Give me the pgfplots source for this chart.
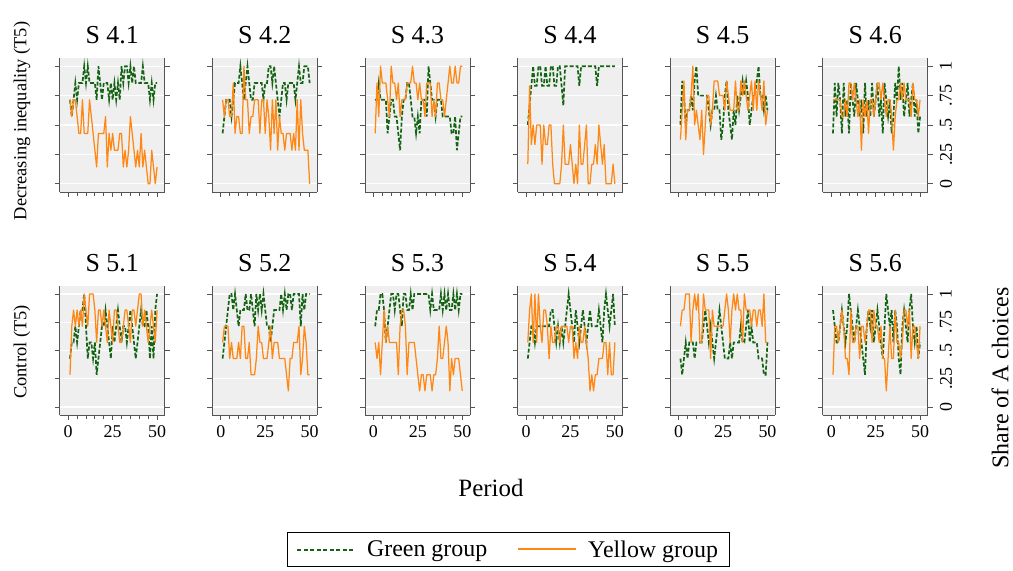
\documentclass[border=0pt]{standalone}
\usepackage{fontspec}
\setmainfont{Liberation Serif}
\usepackage{pgfplots}
\pgfplotsset{compat=1.18}

\definecolor{dkgreen}{RGB}{20,100,20}
\definecolor{orng}{RGB}{255,135,20}
\definecolor{bggray}{RGB}{239,239,239}
\definecolor{axgray}{RGB}{85,85,85}

\pgfplotsset{
  panel/.style={
    scale only axis, width=105bp, anchor=south west,
    xmin=-4.8, xmax=54.3, ymin=-0.07, ymax=1.07,
    axis x line*=bottom, axis y line*=box,
    xtick pos=lower, ytick pos=both,
    axis line style={draw=axgray, line width=0.8bp},
    axis background/.style={fill=bggray},
    ymajorgrids, major grid style={white, line width=1.2bp},
    xtick={0,25,50}, minor xtick={5,10,15,20,30,35,40,45},
    ytick={0,0.25,0.5,0.75,1},
    tick align=outside, major tick length=5bp, minor tick length=4bp,
    tick style={draw=axgray, line width=0.8bp},
    xticklabels={}, yticklabels={},
    tick label style={font=\fontsize{18}{21}\selectfont},
    xticklabel style={yshift=-2bp},
    /pgf/number format/assume math mode=true,
    title style={font=\fontsize{26}{30}\selectfont, at={(0.5,1)}, anchor=base, yshift=9bp},
  },
  toprow/.style={panel, height=134bp},
  botrow/.style={panel, height=129bp, xticklabels={0,25,50}},
  lastcol/.style={yticklabel pos=right, yticklabels={0,.25,.5,.75,1},
    yticklabel style={rotate=90, anchor=north, inner ysep=7bp}},
  gline/.style={color=dkgreen, line width=1.7bp, dash pattern=on 4bp off 2bp, no markers,
    legend image code/.code={\draw[dkgreen, line width=2bp, dash pattern=on 4bp off 2.5bp]
      (0bp,0bp) -- (58bp,0bp);}},
  yline/.style={color=orng, line width=1.25bp, no markers, line join=round,
    legend image code/.code={\draw[orng, line width=2bp] (0bp,0.5bp) -- (58bp,0.5bp);}},
  share/.style={y filter/.expression={y/#1}},
}

\begin{document}
\begin{tikzpicture}
\path[use as bounding box] (0,0) rectangle (1013bp,571bp);

% ---- top row: decreasing inequality ----
\begin{axis}[toprow, at={(59.7bp,379bp)}, title={S 4.1}]
\addplot[gline, share=7] coordinates {
(1,5)(2,4)(3,5)(4,6)(5,5)(6,6)(7,6)(8,6)(9,7)(10,6)
(11,7)(12,6)(13,6)(14,6)(15,6)(16,5)(17,7)(18,6)(19,5)(20,6)
(21,6)(22,6)(23,5)(24,6)(25,5)(26,6)(27,5)(28,6)(29,5)(30,7)
(31,6)(32,7)(33,7)(34,6)(35,7)(36,6)(37,7)(38,6)(39,6)(40,6)
(41,6)(42,7)(43,6)(44,6)(45,6)(46,5)(47,6)(48,5)(49,6)(50,6)};
\addplot[yline, share=7] coordinates {
(1,5)(2,4)(3,5)(4,5)(5,4)(6,3)(7,3)(8,5)(9,3)(10,3)
(11,3)(12,5)(13,4)(14,3)(15,2)(16,1)(17,3)(18,3)(19,3)(20,3)
(21,4)(22,1)(23,3)(24,2)(25,3)(26,2)(27,2)(28,2)(29,3)(30,3)
(31,1)(32,2)(33,1)(34,2)(35,4)(36,3)(37,2)(38,1)(39,2)(40,1)
(41,3)(42,1)(43,2)(44,1)(45,0)(46,0)(47,2)(48,1)(49,0)(50,1)};
\end{axis}

\begin{axis}[toprow, at={(212.3bp,379bp)}, title={S 4.2}]
\addplot[gline, share=7] coordinates {
(1,3)(2,4)(3,5)(4,5)(5,5)(6,4)(7,5)(8,6)(9,6)(10,6)
(11,7)(12,6)(13,5)(14,6)(15,7)(16,6)(17,5)(18,5)(19,6)(20,6)
(21,6)(22,6)(23,6)(24,5)(25,6)(26,6)(27,7)(28,7)(29,6)(30,7)
(31,6)(32,5)(33,4)(34,5)(35,6)(36,6)(37,5)(38,6)(39,6)(40,6)
(41,6)(42,5)(43,6)(44,7)(45,6)(46,6)(47,7)(48,7)(49,7)(50,6)};
\addplot[yline, share=7] coordinates {
(1,5)(2,4)(3,5)(4,5)(5,4)(6,4)(7,6)(8,3)(9,4)(10,4)
(11,3)(12,3)(13,7)(14,5)(15,5)(16,3)(17,4)(18,4)(19,5)(20,5)
(21,5)(22,3)(23,5)(24,5)(25,3)(26,5)(27,4)(28,2)(29,5)(30,3)
(31,5)(32,2)(33,4)(34,3)(35,3)(36,2)(37,3)(38,3)(39,3)(40,2)
(41,3)(42,2)(43,5)(44,2)(45,5)(46,3)(47,2)(48,2)(49,2)(50,0)};
\end{axis}

\begin{axis}[toprow, at={(364.9bp,379bp)}, title={S 4.3}]
\addplot[gline, share=7] coordinates {
(1,5)(2,5)(3,6)(4,5)(5,5)(6,5)(7,5)(8,3)(9,4)(10,5)
(11,5)(12,4)(13,4)(14,3)(15,2)(16,4)(17,5)(18,5)(19,6)(20,6)
(21,5)(22,4)(23,4)(24,3)(25,4)(26,3)(27,5)(28,5)(29,5)(30,4)
(31,7)(32,6)(33,5)(34,5)(35,4)(36,5)(37,5)(38,5)(39,4)(40,4)
(41,4)(42,4)(43,4)(44,3)(45,3)(46,4)(47,2)(48,3)(49,4)(50,4)};
\addplot[yline, share=7] coordinates {
(1,3)(2,6)(3,4)(4,7)(5,6)(6,6)(7,6)(8,5)(9,4)(10,7)
(11,6)(12,6)(13,5)(14,6)(15,4)(16,5)(17,5)(18,5)(19,6)(20,6)
(21,6)(22,7)(23,6)(24,6)(25,5)(26,6)(27,5)(28,5)(29,4)(30,6)
(31,6)(32,6)(33,4)(34,5)(35,4)(36,6)(37,6)(38,5)(39,5)(40,4)
(41,5)(42,6)(43,7)(44,6)(45,6)(46,7)(47,6)(48,6)(49,7)(50,7)};
\end{axis}

\begin{axis}[toprow, at={(517.5bp,379bp)}, title={S 4.4}]
\addplot[gline, share=6] coordinates {
(1,3)(2,4)(3,5)(4,6)(5,5)(6,5)(7,6)(8,6)(9,5)(10,5)
(11,6)(12,5)(13,5)(14,6)(15,6)(16,5)(17,5)(18,6)(19,6)(20,5)
(21,4)(22,6)(23,6)(24,6)(25,6)(26,6)(27,6)(28,6)(29,6)(30,5)
(31,6)(32,6)(33,6)(34,6)(35,6)(36,6)(37,6)(38,6)(39,6)(40,5)
(41,6)(42,6)(43,6)(44,6)(45,6)(46,6)(47,6)(48,6)(49,6)(50,6)};
\addplot[yline, share=6] coordinates {
(1,1)(2,5)(3,2)(4,3)(5,2)(6,3)(7,3)(8,3)(9,1)(10,3)
(11,2)(12,2)(13,3)(14,3)(15,1)(16,0)(17,0)(18,0)(19,0)(20,1)
(21,3)(22,1)(23,1)(24,1)(25,2)(26,1)(27,0)(28,1)(29,0)(30,3)
(31,1)(32,1)(33,2)(34,3)(35,0)(36,0)(37,1)(38,1)(39,2)(40,1)
(41,3)(42,2)(43,1)(44,2)(45,0)(46,0)(47,0)(48,0)(49,1)(50,0)};
\end{axis}

\begin{axis}[toprow, at={(670.1bp,379bp)}, title={S 4.5}]
\addplot[gline, share=8] coordinates {
(1,4)(2,7)(3,6)(4,4)(5,5)(6,5)(7,6)(8,5)(9,7)(10,8)
(11,6)(12,6)(13,6)(14,6)(15,6)(16,6)(17,5)(18,4)(19,5)(20,5)
(21,6)(22,5)(23,5)(24,3)(25,4)(26,6)(27,7)(28,5)(29,4)(30,3)
(31,5)(32,4)(33,6)(34,5)(35,6)(36,7)(37,6)(38,7)(39,6)(40,4)
(41,5)(42,6)(43,6)(44,7)(45,8)(46,6)(47,6)(48,5)(49,6)(50,5)};
\addplot[yline, share=8] coordinates {
(1,3)(2,5)(3,7)(4,3)(5,5)(6,5)(7,6)(8,8)(9,4)(10,5)
(11,4)(12,3)(13,5)(14,2)(15,4)(16,6)(17,6)(18,4)(19,5)(20,7)
(21,7)(22,7)(23,6)(24,6)(25,6)(26,5)(27,7)(28,6)(29,5)(30,5)
(31,5)(32,7)(33,5)(34,5)(35,7)(36,6)(37,7)(38,6)(39,5)(40,6)
(41,7)(42,5)(43,7)(44,5)(45,7)(46,6)(47,5)(48,7)(49,4)(50,5)};
\end{axis}

\begin{axis}[toprow, lastcol, at={(822.7bp,379bp)}, title={S 4.6}]
\addplot[gline, share=7] coordinates {
(1,3)(2,6)(3,4)(4,6)(5,5)(6,3)(7,6)(8,4)(9,5)(10,3)
(11,6)(12,5)(13,4)(14,6)(15,5)(16,4)(17,5)(18,3)(19,6)(20,4)
(21,5)(22,4)(23,6)(24,4)(25,5)(26,6)(27,4)(28,5)(29,3)(30,6)
(31,5)(32,4)(33,5)(34,3)(35,4)(36,6)(37,5)(38,7)(39,5)(40,6)
(41,4)(42,5)(43,6)(44,4)(45,5)(46,6)(47,4)(48,5)(49,3)(50,4)};
\addplot[yline, share=7] coordinates {
(1,5)(2,5)(3,5)(4,5)(5,5)(6,4)(7,4)(8,5)(9,4)(10,6)
(11,6)(12,5)(13,6)(14,5)(15,4)(16,5)(17,2)(18,5)(19,4)(20,5)
(21,3)(22,5)(23,5)(24,4)(25,5)(26,6)(27,6)(28,5)(29,6)(30,5)
(31,4)(32,5)(33,5)(34,4)(35,2)(36,4)(37,5)(38,5)(39,6)(40,5)
(41,6)(42,5)(43,5)(44,5)(45,4)(46,6)(47,5)(48,5)(49,4)(50,5)};
\end{axis}

% ---- bottom row: control ----
\begin{axis}[botrow, at={(59.7bp,156bp)}, title={S 5.1},
  legend columns=2,
  legend style={at={(4.27,-1.043)}, anchor=center, draw=black,
    fill=white, font=\fontsize{24}{28}\selectfont, inner xsep=9bp, inner ysep=6bp,
    /tikz/every odd column/.append style={column sep=9bp},
    /tikz/every even column/.append style={column sep=28bp}}]
\addplot[gline, share=7] coordinates {
(1,3)(2,4)(3,4)(4,5)(5,4)(6,5)(7,6)(8,6)(9,7)(10,5)
(11,3)(12,4)(13,4)(14,3)(15,4)(16,2)(17,3)(18,4)(19,5)(20,5)
(21,6)(22,5)(23,4)(24,3)(25,5)(26,4)(27,5)(28,6)(29,5)(30,4)
(31,5)(32,5)(33,4)(34,5)(35,6)(36,5)(37,4)(38,3)(39,4)(40,5)
(41,6)(42,5)(43,5)(44,6)(45,5)(46,3)(47,5)(48,3)(49,6)(50,7)};
\addplot[yline, share=7] coordinates {
(1,2)(2,5)(3,6)(4,5)(5,6)(6,5)(7,6)(8,5)(9,7)(10,6)
(11,5)(12,7)(13,7)(14,7)(15,6)(16,4)(17,6)(18,6)(19,5)(20,6)
(21,5)(22,4)(23,6)(24,5)(25,4)(26,6)(27,6)(28,5)(29,4)(30,4)
(31,5)(32,6)(33,6)(34,5)(35,4)(36,6)(37,6)(38,5)(39,6)(40,7)
(41,7)(42,5)(43,6)(44,5)(45,4)(46,5)(47,6)(48,5)(49,4)(50,6)};
\legend{Green group, Yellow group}
\end{axis}

\begin{axis}[botrow, at={(212.3bp,156bp)}, title={S 5.2}]
\addplot[gline, share=7] coordinates {
(1,3)(2,4)(3,5)(4,6)(5,7)(6,7)(7,6)(8,7)(9,6)(10,5)
(11,6)(12,6)(13,6)(14,7)(15,6)(16,6)(17,7)(18,6)(19,5)(20,7)
(21,6)(22,7)(23,6)(24,7)(25,6)(26,5)(27,5)(28,4)(29,5)(30,6)
(31,6)(32,6)(33,6)(34,7)(35,6)(36,7)(37,6)(38,7)(39,7)(40,6)
(41,7)(42,7)(43,7)(44,7)(45,5)(46,7)(47,6)(48,7)(49,7)(50,7)};
\addplot[yline, share=7] coordinates {
(1,4)(2,5)(3,5)(4,5)(5,3)(6,4)(7,3)(8,3)(9,3)(10,4)
(11,3)(12,5)(13,5)(14,3)(15,3)(16,4)(17,2)(18,2)(19,2)(20,3)
(21,5)(22,4)(23,4)(24,3)(25,3)(26,3)(27,4)(28,5)(29,3)(30,4)
(31,4)(32,4)(33,3)(34,3)(35,3)(36,3)(37,2)(38,1)(39,3)(40,3)
(41,4)(42,4)(43,4)(44,5)(45,2)(46,3)(47,5)(48,4)(49,2)(50,2)};
\end{axis}

\begin{axis}[botrow, at={(364.9bp,156bp)}, title={S 5.3}]
\addplot[gline, share=7] coordinates {
(1,5)(2,6)(3,6)(4,7)(5,7)(6,6)(7,4)(8,5)(9,6)(10,7)
(11,7)(12,6)(13,7)(14,7)(15,6)(16,5)(17,7)(18,7)(19,6)(20,6)
(21,7)(22,6)(23,7)(24,7)(25,7)(26,7)(27,7)(28,7)(29,7)(30,7)
(31,7)(32,6)(33,7)(34,6)(35,6)(36,6)(37,6)(38,7)(39,6)(40,7)
(41,6)(42,7)(43,6)(44,6)(45,7)(46,6)(47,7)(48,6)(49,7)(50,7)};
\addplot[yline, share=7] coordinates {
(1,4)(2,3)(3,4)(4,2)(5,4)(6,6)(7,4)(8,5)(9,4)(10,4)
(11,4)(12,4)(13,4)(14,2)(15,5)(16,6)(17,6)(18,5)(19,2)(20,4)
(21,4)(22,4)(23,4)(24,3)(25,2)(26,1)(27,2)(28,2)(29,1)(30,2)
(31,2)(32,2)(33,1)(34,2)(35,2)(36,3)(37,5)(38,3)(39,3)(40,4)
(41,5)(42,4)(43,1)(44,3)(45,2)(46,3)(47,3)(48,3)(49,2)(50,1)};
\end{axis}

\begin{axis}[botrow, at={(517.5bp,156bp)}, title={S 5.4}]
\addplot[gline, share=7] coordinates {
(1,3)(2,4)(3,5)(4,5)(5,4)(6,5)(7,5)(8,5)(9,5)(10,5)
(11,5)(12,5)(13,5)(14,6)(15,6)(16,5)(17,4)(18,5)(19,4)(20,5)
(21,4)(22,5)(23,6)(24,7)(25,6)(26,5)(27,4)(28,6)(29,5)(30,4)
(31,5)(32,6)(33,5)(34,4)(35,5)(36,6)(37,5)(38,5)(39,5)(40,5)
(41,6)(42,5)(43,4)(44,6)(45,7)(46,6)(47,5)(48,6)(49,7)(50,5)};
\addplot[yline, share=7] coordinates {
(1,4)(2,6)(3,7)(4,4)(5,7)(6,4)(7,7)(8,5)(9,4)(10,6)
(11,6)(12,5)(13,3)(14,5)(15,4)(16,4)(17,5)(18,5)(19,4)(20,5)
(21,5)(22,5)(23,5)(24,4)(25,5)(26,5)(27,3)(28,4)(29,3)(30,5)
(31,4)(32,4)(33,5)(34,4)(35,3)(36,1)(37,2)(38,1)(39,2)(40,2)
(41,3)(42,3)(43,3)(44,4)(45,4)(46,2)(47,4)(48,2)(49,2)(50,4)};
\end{axis}

\begin{axis}[botrow, at={(670.1bp,156bp)}, title={S 5.5}]
\addplot[gline, share=7] coordinates {
(1,3)(2,2)(3,3)(4,4)(5,3)(6,4)(7,4)(8,4)(9,3)(10,4)
(11,4)(12,4)(13,4)(14,5)(15,6)(16,5)(17,4)(18,5)(19,4)(20,3)
(21,4)(22,5)(23,6)(24,5)(25,4)(26,3)(27,3)(28,3)(29,4)(30,3)
(31,4)(32,4)(33,4)(34,4)(35,5)(36,4)(37,4)(38,5)(39,6)(40,4)
(41,5)(42,4)(43,4)(44,4)(45,3)(46,3)(47,3)(48,2)(49,2)(50,4)};
\addplot[yline, share=7] coordinates {
(1,5)(2,6)(3,6)(4,7)(5,7)(6,7)(7,4)(8,6)(9,7)(10,6)
(11,7)(12,4)(13,4)(14,7)(15,6)(16,6)(17,6)(18,3)(19,6)(20,5)
(21,5)(22,5)(23,5)(24,5)(25,5)(26,6)(27,7)(28,6)(29,4)(30,6)
(31,7)(32,6)(33,7)(34,6)(35,6)(36,4)(37,7)(38,6)(39,6)(40,6)
(41,5)(42,6)(43,6)(44,5)(45,6)(46,6)(47,5)(48,7)(49,4)(50,4)};
\end{axis}

\begin{axis}[botrow, lastcol, at={(822.7bp,156bp)}, title={S 5.6}]
\addplot[gline, share=7] coordinates {
(1,6)(2,5)(3,4)(4,4)(5,5)(6,6)(7,5)(8,4)(9,5)(10,7)
(11,6)(12,5)(13,4)(14,5)(15,6)(16,5)(17,4)(18,3)(19,2)(20,5)
(21,6)(22,5)(23,6)(24,4)(25,5)(26,6)(27,5)(28,4)(29,3)(30,5)
(31,7)(32,6)(33,5)(34,6)(35,4)(36,6)(37,5)(38,3)(39,2)(40,5)
(41,6)(42,5)(43,4)(44,6)(45,7)(46,5)(47,4)(48,5)(49,3)(50,4)};
\addplot[yline, share=7] coordinates {
(1,2)(2,5)(3,5)(4,4)(5,5)(6,6)(7,5)(8,3)(9,3)(10,2)
(11,6)(12,4)(13,4)(14,5)(15,5)(16,3)(17,5)(18,5)(19,4)(20,5)
(21,6)(22,6)(23,4)(24,6)(25,5)(26,5)(27,4)(28,5)(29,3)(30,3)
(31,1)(32,3)(33,5)(34,3)(35,3)(36,6)(37,4)(38,4)(39,3)(40,4)
(41,6)(42,6)(43,5)(44,6)(45,3)(46,5)(47,5)(48,4)(49,3)(50,5)};
\end{axis}

% ---- shared labels ----
\node[rotate=90, font=\fontsize{18.5}{22}\selectfont] at (22bp,450bp) {Decreasing inequality (T5)};
\node[rotate=90, font=\fontsize{18.5}{22}\selectfont] at (22bp,219bp) {Control (T5)};
\node[font=\fontsize{25}{30}\selectfont] at (491bp,83bp) {Period};
\node[rotate=90, font=\fontsize{24}{28}\selectfont] at (1000bp,193bp) {Share of A choices};
\end{tikzpicture}
\end{document}
